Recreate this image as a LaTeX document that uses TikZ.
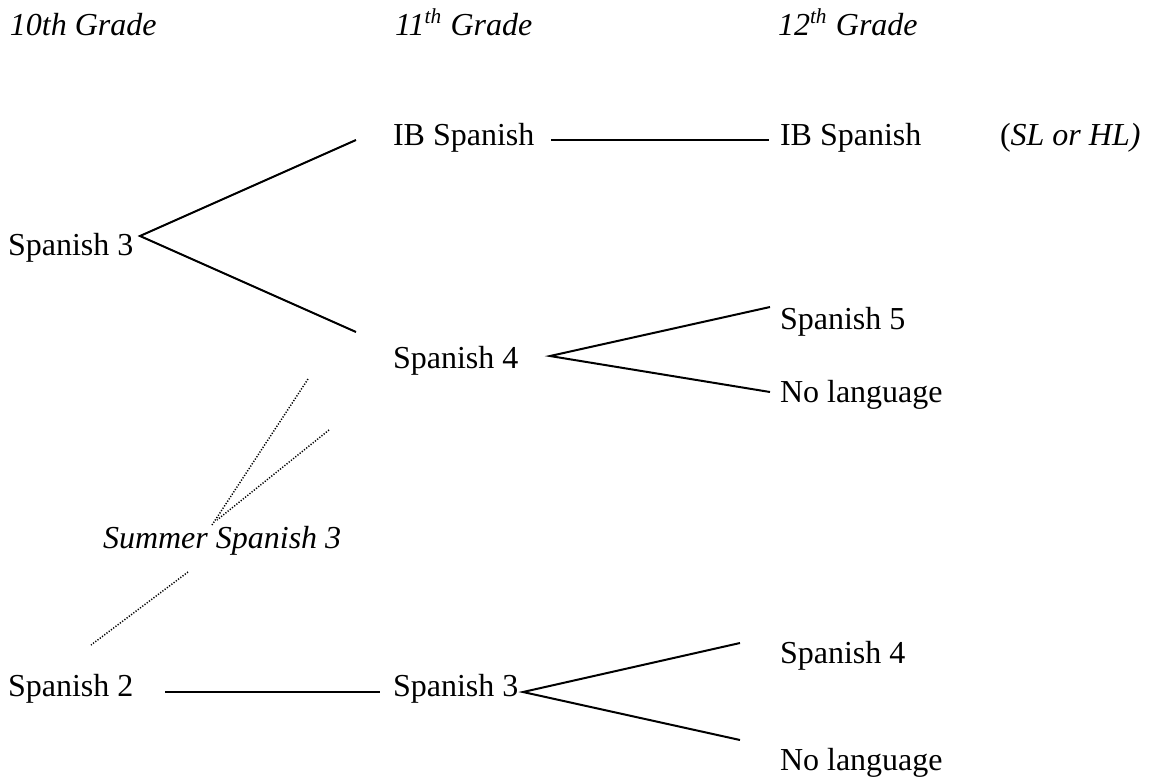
\documentclass[tikz,border=0pt]{standalone}
\usepackage{fontspec}
\setmainfont{Liberation Serif}
\begin{document}
\begin{tikzpicture}[x=0.375pt,y=-0.375pt,
  font=\fontsize{12}{14}\selectfont,
  lbl/.style={anchor=base west, inner sep=0pt, outer sep=0pt},
  hdr/.style={lbl, font=\fontsize{12}{14}\selectfont\itshape},
  link/.style={line width=0.75pt},
  dotlink/.style={line width=0.55pt, dash pattern=on 0.45pt off 0.6pt}]
\useasboundingbox (0,0) rectangle (1158,780);

% headers
\node[hdr] (g10) at (10,35) {10th Grade};
\node[hdr] (g11) at (395,35) {11\textsuperscript{th} Grade};
\node[hdr] (g12) at (778,35) {12\textsuperscript{th} Grade};

% labels
\node[lbl] (a3) at (8,255) {Spanish 3};
\node[lbl] (ib11) at (393,145) {IB Spanish};
\node[lbl] (s4) at (393,368) {Spanish 4};
\node[lbl] (ib12) at (780,145) {IB Spanish};
\node[lbl] (slhl) at (1000,145) {(\textit{SL or HL)}};
\node[lbl] (s5) at (780,329) {Spanish 5};
\node[lbl] (nl1) at (780,402) {No language};
\node[lbl, font=\fontsize{12}{14}\selectfont\itshape] (sum) at (103,548) {Summer Spanish 3};
\node[lbl] (s2) at (8,696) {Spanish 2};
\node[lbl] (s3b) at (393,696) {Spanish 3};
\node[lbl] (s4b) at (780,663) {Spanish 4};
\node[lbl] (nl2) at (780,770) {No language};

% connector end points
\coordinate (v1) at (140,236);
\coordinate (e1a) at (356,140);
\coordinate (e1b) at (356,332);
\coordinate (ibl1) at (551,140);
\coordinate (ibl2) at (769,140);
\coordinate (v2) at (550,356);
\coordinate (e2a) at (770,307);
\coordinate (e2b) at (770,392);
\coordinate (d1a) at (308,379);
\coordinate (d1b) at (212,525);
\coordinate (d2a) at (329,430);
\coordinate (d2b) at (217,520);
\coordinate (d3a) at (188,572);
\coordinate (d3b) at (91,645);
\coordinate (h1) at (165,692);
\coordinate (h2) at (380,692);
\coordinate (v3) at (523,692);
\coordinate (e3a) at (740,643);
\coordinate (e3b) at (740,740);

% solid connectors
\draw[link] (e1a) -- (v1) -- (e1b);
\draw[link] (ibl1) -- (ibl2);
\draw[link] (e2a) -- (v2) -- (e2b);
\draw[link] (h1) -- (h2);
\draw[link] (e3a) -- (v3) -- (e3b);

% dotted connectors
\draw[dotlink] (d1a) -- (d1b);
\draw[dotlink] (d2a) -- (d2b);
\draw[dotlink] (d3a) -- (d3b);
\end{tikzpicture}
\end{document}
